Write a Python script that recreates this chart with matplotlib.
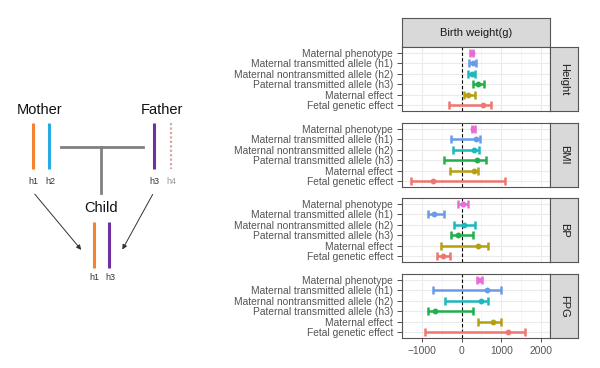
import matplotlib
matplotlib.use("Agg")
import matplotlib.pyplot as plt
from matplotlib.patches import Rectangle, FancyArrowPatch

plt.rcParams['font.family'] = ['Liberation Sans', 'DejaVu Sans']

W, H = 600, 368

categories = ["Maternal phenotype",
              "Maternal transmitted allele (h1)",
              "Maternal nontransmitted allele (h2)",
              "Paternal transmitted allele (h3)",
              "Maternal effect",
              "Fetal genetic effect"]
colors = ["#E96BD8", "#6A9BE8", "#1DB7BE", "#22AE4C", "#B59F12", "#EE7670"]

traits = ["Height", "BMI", "BP", "FPG"]

# estimates, lower and upper bounds (g)
height_est = [250, 275, 250, 415, 150, 550]
height_lo = [220, 190, 165, 275, 67, -325]
height_hi = [285, 360, 335, 565, 333, 735]

bmi_est = [290, 360, 315, 400, 300, -710]
bmi_lo = [260, -265, -210, -450, -285, -1265]
bmi_hi = [325, 465, 440, 610, 425, 1090]

bp_est = [25, -685, 65, -100, 425, -475]
bp_lo = [-100, -835, -200, -265, -515, -615]
bp_hi = [165, -435, 335, 275, 665, -300]

fpg_est = [450, 650, 485, -665, 800, 1175]
fpg_lo = [385, -725, -410, -850, 425, -910]
fpg_hi = [515, 985, 675, 290, 1000, 1590]

x_ticks = [-1000, 0, 1000, 2000]
x_ticklabels = ["\u22121000", "0", "1000", "2000"]
strip_title = "Birth weight(g)"

panels = [(height_est, height_lo, height_hi),
          (bmi_est, bmi_lo, bmi_hi),
          (bp_est, bp_lo, bp_hi),
          (fpg_est, fpg_lo, fpg_hi)]

fig = plt.figure(figsize=(6, 3.68), dpi=100)

def fx(px):
    return px / W

def fy(py):
    return 1 - py / H

# ---------- left diagram (pixel coords overlay) ----------
ov = fig.add_axes([0, 0, 1, 1])
ov.set_xlim(0, W)
ov.set_ylim(H, 0)
ov.axis('off')

orange, blue, purple, pink = "#F58233", "#29ABE2", "#7030A0", "#D9A6A6"
ov.text(40, 110, "Mother", ha='center', va='center', fontsize=10.5, color='#111111')
ov.text(162, 110, "Father", ha='center', va='center', fontsize=10.5, color='#111111')
ov.text(101, 208, "Child", ha='center', va='center', fontsize=10.5, color='#111111')
ov.plot([33, 33], [123, 169], color=orange, lw=2.2, solid_capstyle='butt')
ov.plot([49, 49], [123, 169], color=blue, lw=2.2, solid_capstyle='butt')
ov.plot([154, 154], [123, 169], color=purple, lw=2.2, solid_capstyle='butt')
ov.plot([171, 171], [123, 169], color=pink, lw=1.6, ls=(0, (1, 1)))
ov.plot([94, 94], [222, 268], color=orange, lw=2.2, solid_capstyle='butt')
ov.plot([109, 109], [222, 268], color=purple, lw=2.2, solid_capstyle='butt')
for x, y, t, c in [(33, 182, "h1", "#333333"), (50, 182, "h2", "#333333"),
                   (154, 182, "h3", "#333333"), (171, 182, "h4", "#999999"),
                   (94, 278, "h1", "#333333"), (110, 278, "h3", "#333333")]:
    ov.text(x, y, t, ha='center', va='center', fontsize=6.5, color=c)
ov.plot([61, 143], [147, 147], color='#808080', lw=2)
ov.plot([101, 101], [147, 193], color='#808080', lw=2)
for (x0, y0, x1, y1) in [(33, 192, 83, 252), (154, 192, 121, 252)]:
    ov.add_patch(FancyArrowPatch((x0, y0), (x1, y1), arrowstyle='-|>',
                                 mutation_scale=7, color='#333333', lw=0.7))

# ---------- forest panels ----------
panel_left, panel_right = 402, 550
strip_right = 578
tops = [47, 123, 198, 274]
ph = 64

# top strip
st = fig.add_axes([fx(panel_left), fy(47), fx(panel_right - panel_left), (47 - 18) / H])
st.set_xticks([]); st.set_yticks([])
st.set_facecolor('#D9D9D9')
for s in st.spines.values():
    s.set_color('#555555'); s.set_linewidth(0.8)
st.text(0.5, 0.5, strip_title, transform=st.transAxes, ha='center', va='center',
        fontsize=8, color='#1A1A1A')

ypos = list(range(len(categories)))
for i, (trait, (est, lo, hi)) in enumerate(zip(traits, panels)):
    top = tops[i]
    ax = fig.add_axes([fx(panel_left), fy(top + ph), fx(panel_right - panel_left), ph / H])
    ax.set_xlim(-1500, 2225)
    ax.set_ylim(5.58, -0.58)
    ax.set_xticks(x_ticks)
    ax.set_xticks([-1500, -500, 500, 1500], minor=True)
    ax.set_yticks(ypos)
    ax.set_yticklabels(categories)
    ax.grid(True, which='major', color='#EBEBEB', lw=0.8)
    ax.grid(True, which='minor', axis='x', color='#F2F2F2', lw=0.5)
    ax.set_axisbelow(True)
    ax.tick_params(axis='y', length=3.5, width=0.6, color='#333333', labelsize=7.4,
                   labelcolor='#555555', pad=3)
    ax.tick_params(axis='x', which='both', length=0, labelsize=7.4, labelcolor='#555555')
    if i < 3:
        ax.set_xticklabels([])
    else:
        ax.set_xticklabels(x_ticklabels)
        ax.tick_params(axis='x', length=3, width=0.6, color='#333333', pad=3)
    for s in ax.spines.values():
        s.set_color('#555555'); s.set_linewidth(0.8)
    ax.axvline(0, color='black', ls='--', lw=0.8, dashes=(3, 2))
    for j in range(len(categories)):
        ax.errorbar(est[j], ypos[j], xerr=[[est[j] - lo[j]], [hi[j] - est[j]]],
                    fmt='o', color=colors[j], ms=3.2, elinewidth=1.8,
                    capsize=2.8, capthick=1.8)
    # right strip
    rs = fig.add_axes([fx(panel_right), fy(top + ph), fx(strip_right - panel_right), ph / H])
    rs.set_xticks([]); rs.set_yticks([])
    rs.set_facecolor('#D9D9D9')
    for s in rs.spines.values():
        s.set_color('#555555'); s.set_linewidth(0.8)
    rs.text(0.5, 0.5, trait, transform=rs.transAxes, ha='center', va='center',
            rotation=-90, fontsize=8, color='#1A1A1A')

fig.savefig("out.png", dpi=100)
